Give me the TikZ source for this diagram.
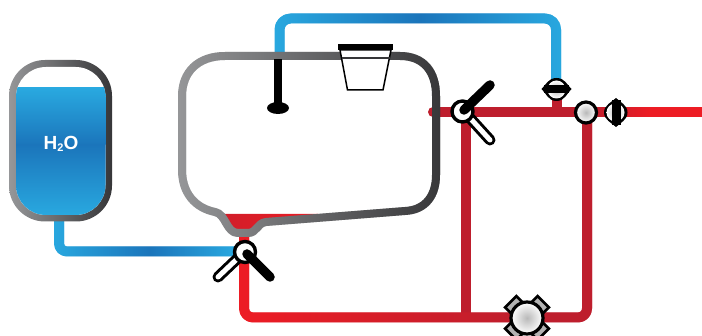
\documentclass[tikz,border=0pt]{standalone}
\usepackage{fontspec}
\setmainfont{Liberation Sans}
\definecolor{bluelight}{HTML}{29A9E0}
\definecolor{bluedark}{HTML}{1B75BB}
\definecolor{redbright}{HTML}{ED1C24}
\definecolor{reddark}{HTML}{BE1E2D}
\definecolor{graylight}{HTML}{969799}
\definecolor{graydark}{HTML}{363638}
\newcommand{\gradpipe}[6]{%
  \pgfmathtruncatemacro{\xlast}{#2-1}%
  \foreach \i in {#1,...,\xlast}{%
    \pgfmathsetmacro{\p}{(\i-#1)/(#2-#1)*100}%
    \colorlet{tmpc}{#4!\p!#3}%
    \begin{scope}
      \clip (\i,-5) rectangle (\i+1.4,345);
      \draw[draw=tmpc,#5] #6;
    \end{scope}
  }%
}
\tikzset{
  pipe/.style={line width=10pt,line join=round},
  vessel/.style={line width=8pt,line join=round},
  disc/.style={draw=black,line width=3.2pt,inner color=gray!55,outer color=white},
  ear/.style={draw=black,fill=gray!60,line width=2.6pt},
}
\begin{document}
\begin{tikzpicture}[x=1pt,y=-1pt]
\useasboundingbox (0,0) rectangle (702,336);
% blue pipes
\gradpipe{270}{420}{bluelight}{bluedark}{pipe,rounded corners=11pt}{(279.5,60) -- (279.5,18.5) -- (556,18.5) -- (556,85)}
\gradpipe{420}{566}{bluedark}{bluelight}{pipe,rounded corners=11pt}{(279.5,60) -- (279.5,18.5) -- (556,18.5) -- (556,85)}
\gradpipe{50}{150}{bluelight}{bluedark}{pipe,rounded corners=8pt}{(59,215) -- (59,251.5) -- (238,251.5)}
\gradpipe{150}{238}{bluedark}{bluelight}{pipe,rounded corners=8pt}{(59,215) -- (59,251.5) -- (238,251.5)}
% red pipes
\draw[pipe,reddark,line cap=round] (433,112) -- (590,112);
\gradpipe{590}{650}{reddark}{redbright}{pipe}{(585,112) -- (702,112)}
\draw[pipe,redbright] (650,112) -- (702,112);
\draw[pipe,reddark] (466,112) -- (466,316);
\draw[pipe,reddark] (556.5,95) -- (556.5,112);
\gradpipe{238}{525}{redbright}{reddark}{pipe,rounded corners=9pt}{(244,235) -- (244,317.5) -- (587,317.5) -- (587,112)}
\gradpipe{525}{594}{reddark}{reddark}{pipe,rounded corners=9pt}{(244,235) -- (244,317.5) -- (587,317.5) -- (587,112)}
% water tank
\shade[left color=graylight,right color=graydark,rounded corners=36pt] (9,60) rectangle (112,221.5);
\fill[white,rounded corners=30pt] (16,67) rectangle (105.5,215);
\begin{scope}
  \clip[rounded corners=30pt] (16,67) rectangle (105.5,215);
  \shade[top color=bluelight,bottom color=bluedark] (15,88) rectangle (107,145);
  \shade[top color=bluedark,bottom color=bluelight] (15,144.5) rectangle (107,216);
\end{scope}
\node[text=white,font=\fontsize{19}{19}\selectfont\bfseries,inner sep=0pt] (water) at (61,144) {H\raisebox{-1.5pt}{\fontsize{11}{11}\selectfont 2}O};
% red pool
\shade[left color=reddark!60!redbright,right color=redbright] (224,214) -- (318,214) -- (262,222) -- (252,231) -- (236,231) -- (228,224) -- cycle;
% main vessel
\gradpipe{176}{444}{graylight}{graydark}{vessel}{(225,56) -- (400,56) .. controls (424,56) and (436,72) .. (436,96) -- (436,175) .. controls (436,195) and (426,210) .. (405,211) -- (266,222) .. controls (257,223) and (257,233) .. (248,233) -- (238,233) .. controls (226,233) and (226,214) .. (215,212) .. controls (195,208) and (182,193) .. (182,170) -- (182,96) .. controls (182,72) and (198,56) .. (225,56) -- cycle}
% dip tube
\draw[line width=8pt,black] (278,59) -- (278,106);
\fill[black] (278,108) ellipse [x radius=11,y radius=6];
% cup
\draw[fill=white,line width=1.5pt,draw=black] (340,50) -- (347.5,90) -- (383,90) -- (391,50) -- cycle;
\draw[line width=1.6pt,graydark] (341.5,58) -- (389.5,58);
\fill[black] (338,44) rectangle (393,50);
% valve bottom
\draw[line width=11pt,black,line cap=round] (238,258) -- (218,277);
\draw[line width=5pt,white,line cap=round] (238,258) -- (218,277);
\draw[fill=white,line width=3.4pt,draw=black] (245,252) circle (10.5);
\draw[line width=9.5pt,black,line cap=round] (247,254) -- (270,277);
% valve right
\draw[line width=11pt,black,line cap=round] (470,118) -- (490,140);
\draw[line width=5pt,white,line cap=round] (470,118) -- (490,140);
\draw[fill=white,line width=3.4pt,draw=black] (462.5,111.5) circle (10.5);
\draw[line width=9.5pt,black,line cap=round] (464,110) -- (490,85);
% small valve top
\fill[black] (541.5,89) .. controls (546,85) and (548,78) .. (556.5,78) .. controls (565,78) and (567,85) .. (571.5,89) .. controls (567,93) and (565,101) .. (556.5,101) .. controls (548,101) and (546,93) .. (541.5,89) -- cycle;
\shade[inner color=gray!55,outer color=white] (556.5,89.5) circle (9);
\fill[black] (544,85) rectangle (569,93.5);
% disc on the pipe
\draw[disc] (586,112.5) circle (10.5);
% small valve right
\fill[black] (616,98) .. controls (620,102) and (627.5,105) .. (627.5,112.5) .. controls (627.5,120) and (620,123) .. (616,127) .. controls (612,123) and (604,120) .. (604,112.5) .. controls (604,105) and (612,102) .. (616,98) -- cycle;
\shade[inner color=gray!55,outer color=white] (615.5,112.5) circle (9);
\fill[black] (611.5,100) rectangle (620.5,125);
% pump
\foreach \a in {45,135,225,315}{
  \draw[ear,rotate around={\a:(527,318)}] (527+15,318-8) rectangle (527+23,318+8);
}
\draw[disc] (527,318) circle (16);
\end{tikzpicture}
\end{document}
